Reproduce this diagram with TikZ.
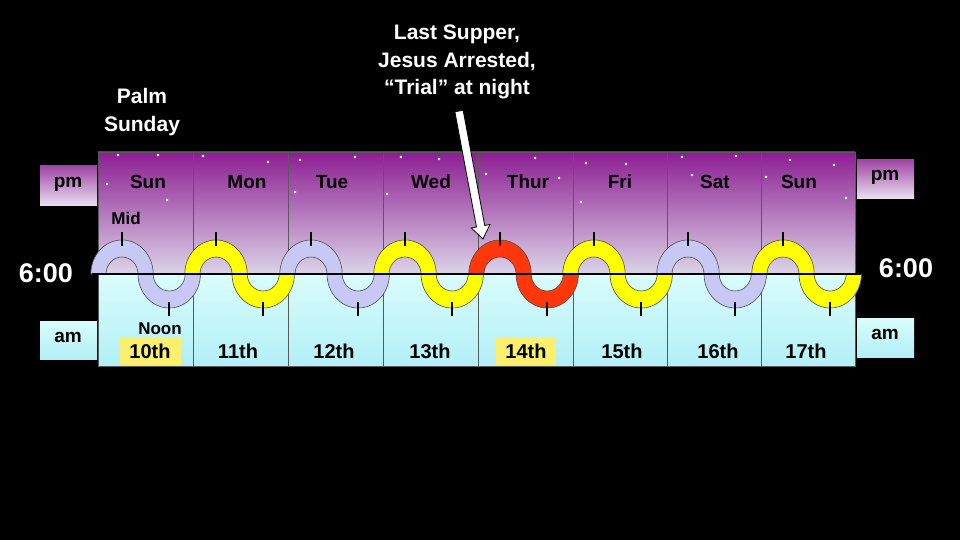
\documentclass[tikz,border=0pt]{standalone}
\usepackage{fontspec}
\setmainfont{Liberation Sans}
\usetikzlibrary{calc}

\definecolor{nightpurple}{RGB}{140,30,145}
\definecolor{dusk}{RGB}{220,212,232}
\definecolor{morning}{RGB}{218,252,252}
\definecolor{daycyan}{RGB}{178,240,246}
\definecolor{pmtop}{RGB}{160,70,165}
\definecolor{pmbottom}{RGB}{232,222,240}
\definecolor{lav}{RGB}{200,200,244}
\definecolor{yel}{RGB}{255,255,0}
\definecolor{blood}{RGB}{255,55,10}
\definecolor{hilite}{RGB}{250,240,110}

\begin{document}
\begin{tikzpicture}[x=1pt,y=-1pt,
    daylabel/.style={font=\fontsize{19}{22}\selectfont\bfseries, anchor=base, inner sep=0},
    datelabel/.style={font=\fontsize{20}{22}\selectfont\bfseries, anchor=base, inner sep=0},
    sidelabel/.style={font=\fontsize{19}{22}\selectfont\bfseries, anchor=base, inner sep=0},
    clocklabel/.style={text=white, font=\fontsize{27}{30}\selectfont\bfseries, anchor=base, inner sep=0},
    caption/.style={text=white, font=\fontsize{21}{27.5}\selectfont\bfseries, align=center},
    band/.style={draw=black!70, line width=0.6pt},
    hourtick/.style={line width=2pt},
    divider/.style={draw=black!65, line width=0.7pt}]

        % Draw the black background
        \useasboundingbox (0,0) rectangle (960,540);
        \fill[black] (0,0) rectangle (960,540);

        % Draw the night and day halves of the week
        \shade[top color=nightpurple, bottom color=dusk] (98,152) rectangle (855,274);
        \shade[top color=morning, bottom color=daycyan] (98,274) rectangle (855,366);

        % Draw the pm and am boxes
        \shade[top color=pmtop, bottom color=pmbottom] (40,166) rectangle (97,205);
        \shade[top color=pmtop, bottom color=pmbottom] (857,160) rectangle (914,198);
        \shade[top color=morning, bottom color=daycyan] (40,321) rectangle (97,359);
        \shade[top color=morning, bottom color=daycyan] (857,318) rectangle (914,357);

        % Add the stars of the night sky
        \foreach \p in {(118,155),(158,155),(107,184),(167,200),(203,156),(268,162),
                        (300,160),(295,192),(355,157),(401,157),(439,159),(387,194),
                        (535,158),(486,174),(559,178),(586,163),(626,164),(581,202),
                        (682,157),(736,156),(692,175),(790,160),(834,165),(766,177),(846,198)}
            \fill[white] \p circle (1.4);

        % Draw the lines between the days
        \foreach \x in {193,288,383,478,573,667,761}
            \draw[divider] (\x,152) -- (\x,366);
        \draw[divider] (98,152) rectangle (855,366);

        % Mark the 10th and the 14th
        \fill[hilite] (120,337) rectangle (181,365);
        \fill[hilite] (496,337) rectangle (556,365);

        % Add the labels of the days and dates
        \node[daylabel] (sun1) at (148,188) {Sun};
        \node[daylabel] (mon) at (247,188) {Mon};
        \node[daylabel] (tue) at (332,188) {Tue};
        \node[daylabel] (wed) at (431,188) {Wed};
        \node[daylabel] (thur) at (528,188) {Thur};
        \node[daylabel] (fri) at (620,188) {Fri};
        \node[daylabel] (sat) at (715,188) {Sat};
        \node[daylabel] (sun2) at (799,188) {Sun};

        \node[datelabel] (d10) at (150,358) {10th};
        \node[datelabel] (d11) at (238,358) {11th};
        \node[datelabel] (d12) at (334,358) {12th};
        \node[datelabel] (d13) at (430,358) {13th};
        \node[datelabel] (d14) at (526,358) {14th};
        \node[datelabel] (d15) at (622,358) {15th};
        \node[datelabel] (d16) at (718,358) {16th};
        \node[datelabel] (d17) at (806,358) {17th};

        \node[sidelabel] (pmleft) at (68,187) {pm};
        \node[sidelabel] (pmright) at (885,181) {pm};
        \node[sidelabel] (amleft) at (68,342) {am};
        \node[sidelabel] (amright) at (885,339) {am};

        \node[daylabel, font=\fontsize{17}{20}\selectfont\bfseries] (mid) at (126,224) {Mid};
        \node[daylabel, font=\fontsize{17}{20}\selectfont\bfseries] (noon) at (160,334) {Noon};

        % Draw the wave of nights and days
        \foreach \col [count=\i from 0] in {lav,yel,lav,yel,blood,yel,lav,yel} {
            \pgfmathsetmacro{\c}{round(122+94.4*\i)}
            \pgfmathsetmacro{\n}{round(\c+47.2)}
            \draw[band, fill=\col] (\c-31.2,274)
                arc[start angle=180, end angle=360, x radius=31.2, y radius=34]
                arc[start angle=180, end angle=0, x radius=16, y radius=17]
                -- ++(15.2,0)
                arc[start angle=0, end angle=180, x radius=31.2, y radius=34]
                arc[start angle=360, end angle=180, x radius=16, y radius=17]
                -- cycle;
            \draw[hourtick] (\c,232) -- (\c,246);
            \draw[hourtick] (\n,302) -- (\n,316);
        }

        % Draw the 6:00 line
        \draw[line width=2pt] (92,274) -- (861,274);
        \node[clocklabel] (sixleft) at (46,282) {6:00};
        \node[clocklabel] (sixright) at (906,277) {6:00};

        % Add the captions
        \node[caption] (palm) at (142,112) {Palm\\Sunday};
        \node[caption] (supper) at (457,62) {Last Supper,\\Jesus Arrested,\\“Trial” at night};

        % Draw the arrow to Thursday
        \coordinate (arrowtail) at (459,111);
        \coordinate (arrowtip) at (483,239);
        \coordinate (headbase) at ($(arrowtip)!13pt!(arrowtail)$);
        \filldraw[fill=white, draw=black, line width=0.8pt]
            ($(arrowtail)!4.2pt!90:(arrowtip)$) -- ($(headbase)!4.2pt!90:(arrowtip)$)
            -- ($(headbase)!9.5pt!90:(arrowtip)$) -- (arrowtip)
            -- ($(headbase)!9.5pt!-90:(arrowtip)$) -- ($(headbase)!4.2pt!-90:(arrowtip)$)
            -- ($(arrowtail)!4.2pt!-90:(arrowtip)$) -- cycle;
\end{tikzpicture}
\end{document}
